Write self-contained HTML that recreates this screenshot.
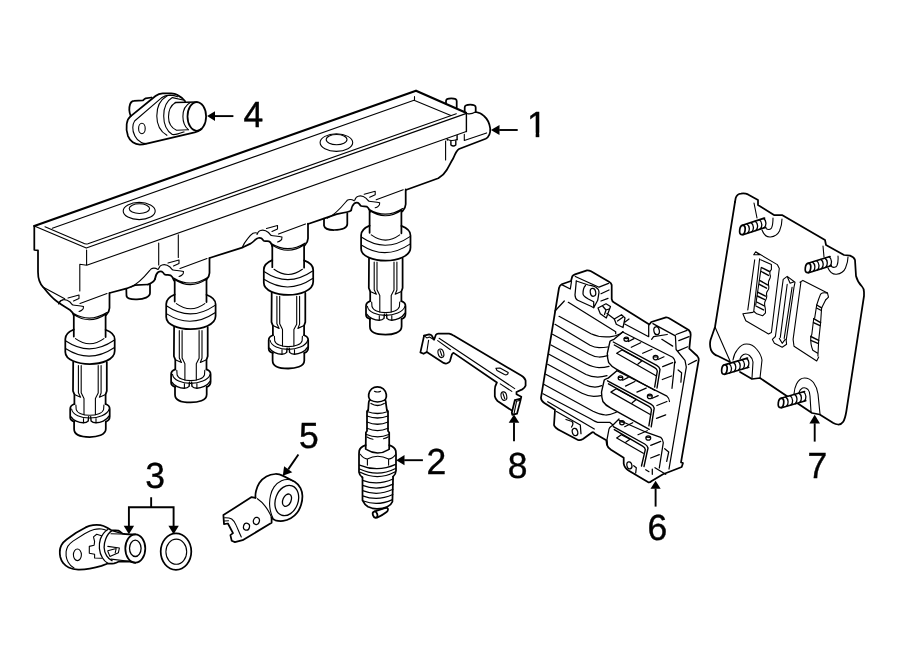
<!DOCTYPE html>
<html><head><meta charset="utf-8">
<style>
html,body{margin:0;padding:0;background:#fff;}
svg{display:block;}
.b{fill:none;stroke:#000;stroke-width:1.75;stroke-linecap:round;stroke-linejoin:round;}
.m{fill:none;stroke:#000;stroke-width:1.4;stroke-linecap:round;stroke-linejoin:round;}
.t{fill:none;stroke:#000;stroke-width:var(--w,1.1);stroke-linecap:round;stroke-linejoin:round;}
.a{fill:none;stroke:#000;stroke-width:1.9;stroke-linecap:butt;}
text{font-family:"Liberation Sans",sans-serif;fill:#000;}
</style></head><body>
<svg width="900" height="661" viewBox="0 0 900 661">
<defs>
<clipPath id="one"><path d="M-2,-30 H22 V-4.2 H12.3 V0.6 H8.67 V-4.2 H-2 Z"/></clipPath>
<g id="boot">
  <!-- neck -->
  <path class="b" d="M73.8,315.5 L73.8,336.5 M105.6,315 L105.6,337"/>
  <path class="t" d="M72.7,313 Q89.7,323.4 106.8,312.5 M73.6,314.6 Q89.7,325 105.8,314.2"/>
  <!-- collar -->
  <path class="b" d="M73.8,329.5 C69,331.5 65.3,335 65.3,339 L65.3,352 C65.3,360 78,364 89.7,364 C101,364 114.7,360 114.7,351 L114.7,339.2 C114.7,335 110.5,331.5 105.6,329.7"/>
  <path class="t" d="M75.5,338.6 Q89.7,348.8 103.9,338.6 M65.9,341 Q89.7,357 114.1,340.3 M65.9,348.8 Q89.7,364 114.1,347.7"/>
  <!-- lower body -->
  <path class="b" d="M73.2,362 L73,391 L74.4,394.4 L74.4,404 M106.8,362 L106.8,391 L105.6,394.4 L105.6,404"/>
  <path class="t" d="M78.4,365.5 L78.4,392.7 L80.6,397.2 M81.2,365.5 L81.2,392.7 L84,398.4 L84,414.6 M98.2,365.5 L98.2,393 L95.4,398.4 L95.4,414.6 M101.1,365.5 L101.1,393 L99.4,397.2 M74.4,394.4 L80.6,397.2 M105.6,394.4 L99.4,397.2"/>
  <!-- ring -->
  <path class="b" d="M74.4,404 C71,405 70.2,407 70.2,409 L70.2,417.5 C70.2,420 72,421 74.4,421.6 M105.6,404 C109,405 109.7,407 109.7,409 L109.7,416.5 C109.7,419.5 108,421 105.8,421.6"/>
  <path class="t" d="M71.6,409 C72.5,415 81,418 89.7,418 C98,418 107.5,415 109.2,409 M75.9,405 L76.2,409.5 C77,413 83,415.3 89.7,415.3 C96.5,415.3 102.8,413 103.6,409.5 L103.9,405 M83.5,418.5 L83.5,422.8 M96,418.5 L96,422.8"/>
  <path class="m" d="M71.1,416.9 C73,420.5 79,422.8 83.3,422.8 C85.5,422.8 87.3,422 88.2,421 L88.6,416.8 M90.7,416.8 L91.1,421 C92,422 93.8,422.8 96,422.8 C100.5,422.8 106.5,420.5 109.2,415.9"/>
  <!-- tip -->
  <path class="b" d="M74.1,421.6 L74.1,429 C74.1,435 82,437 89.7,437 C97,437 105.8,435 105.8,429 L105.8,421.6"/>
</g>
<g id="clip">
  <path class="t" d="M58.5,304 C59.5,301.5 60.5,300.3 62,300 C64,299.3 67,299.5 70,302 C71.5,303.5 72,304.8 73,305 C76,305.6 80,305.3 83.5,306.5 C83.6,308.5 83,309.5 82,310 C81,311 80,311.3 79,311.5"/>
  <path class="t" d="M68,298 L79,295 L79,298.5 L73.5,301"/>
  <path class="t" d="M80,303.5 L107,293.5"/>
  <path class="b" d="M109.5,293 L109.5,308 C109.5,311 108,313 106.2,315"/>
</g>
<g id="clipB">
  <path class="b" d="M55,314 C55.5,311 56.5,308.5 58,307.3 C60,306 62,306.5 63,307.5 C64,308.5 64,309.5 65,309.7 C67,310.2 69,309.8 70.5,310.3 C72.5,311.5 73,313 74,315.5"/>
</g>
<g id="clipL">
  <path class="t" d="M31,322 C40,318 46,310 51,304 C53,302.8 56,303.2 58,304.5"/>
</g>
<g id="clipA">
  <path class="b" d="M48,319.5 C52,318 54.5,316 55,314"/>
</g>
</defs>

<!-- ===== COIL PACK (1) ===== -->
<g id="coil">
  <!-- lid -->
  <path class="b" d="M34.3,226 L416,90.7 L466,112.8" style="stroke-width:2.2"/>
  <path class="t" style="stroke-width:1.25" d="M34.3,226 L86.3,248 L466.5,113.4"/>
  <path class="t" d="M45,226.7 L83,243 Q85.5,244.6 88,243.8 L456.3,113.7"/>
  <path class="t" d="M52.3,228.3 L414,100.2 L450.9,115.4 M414.5,96.5 L414.5,100.5"/>
  <path class="t" d="M86.6,250 L86.6,265.3 M86.7,265.3 L466.3,131.5 M86.7,265.3 L79.8,264.3 L79.8,291"/>
  <path class="m" d="M466.4,113.4 L466.4,131.5"/>
  <!-- bosses -->
  <ellipse class="t" cx="139.2" cy="211" rx="16" ry="8.6"/>
  <ellipse class="t" cx="139.4" cy="208.6" rx="10.2" ry="4.9"/>
  <ellipse class="t" cx="336.4" cy="142.6" rx="16.3" ry="8.8"/>
  <ellipse class="t" cx="336.6" cy="139.6" rx="10.4" ry="5.1"/>
  <!-- verticals -->
  <path class="t" d="M158.7,243 L158.7,265 M178.3,234.7 L178.3,257.5 M445.6,141 L445.6,160"/>
  <!-- left end -->
  <path class="b" d="M34.3,226 L34.3,250 L38,250.4 L38,272 C38,280 40,284 43.3,287.3 C47,292 52,298 56.7,301.3 C61,304.5 66,307.5 70,310 C72,311.5 73,313 73.8,315.5"/>
  <path class="t" d="M43.3,287.3 L64.7,298.7"/>
  <!-- body bottom segments -->
  <path class="b" d="M109.5,293 L126,288.7 L135,285.2 L148,284.5"/>
  <path class="b" d="M126.3,288.7 L126.5,296 C127,298.5 131,299.6 137,299.4 C144,299.2 150,297 150,293 L150,284.5"/>
  <path class="b" d="M209.5,258 L243,247.3 L250,243.9 C252,242.8 253.5,241.6 254.5,240.5 C256,239 257,238.2 258.3,238 C259.5,237.7 260.5,237.8 261.3,238.3 C262.5,239.2 263,240.2 263.7,240.7 C265.5,241.5 267.5,241 269,241.3 C270.5,241.8 271.2,243.2 271.7,244.7 L272.3,246.5"/>
  <path class="b" d="M308,224 L323.7,218.7 L336.7,214.2 L347.3,212 C349.3,211.6 350.6,211.2 351.2,210.3"/>
  <path class="b" d="M324,218.7 L324,225.5 C324.5,228.5 329,230 334,230 C341,229.8 347.3,228 347.3,224 L347.3,213"/>
  <path class="b" d="M405.8,190 L438.3,178.3 C443,175.5 445,173 446.7,170 C449,166 451,162 453.3,158.3 C455,154 456.5,150.5 459,149 L485.7,138.7 C489,137 490.5,133 490.2,128.4 C489.5,123 487,118.6 484,116 C481.5,113.5 479,112.3 475.7,112"/>
  <!-- right end pegs -->
  <path class="b" d="M446,103.6 L446,101 C446,99 449,98.4 451.3,98.4 C454,98.4 456.7,99 456.7,101 L456.7,107.5"/>
  <path class="b" d="M464.7,112 L464.7,107.5 C464.7,105.3 467.5,104.7 470.2,104.7 C473,104.7 475.7,105.3 475.7,107.5 L475.7,112"/>
  <path class="t" d="M467.5,113.6 Q471,114.5 475.5,112"/>
  <path class="t" d="M464.3,134.2 L464.3,140.4 L486.6,132.9"/>
  <path class="m" d="M447.3,139 L447.3,140 M457.1,135.5 L457.1,139.8 M450.9,141 L450.9,145 Q453.4,147 455.8,145 L455.8,140.8"/>
  <path class="t" d="M447.5,139.6 Q452,141.5 457,139.4"/>
</g>
<!-- boots -->
<use href="#boot"/><use href="#clip"/>
<path class="t" d="M59,303.6 C60,301.5 61,300.3 62.5,300"/>
<use href="#boot" transform="translate(100.9,-36.3) scale(1,1.004)"/><use href="#clip" transform="translate(100,-35)"/><use href="#clipL" transform="translate(100,-35)"/><use href="#clipA" transform="translate(100,-35)"/><use href="#clipB" transform="translate(100,-35)"/>
<use href="#boot" transform="translate(198.5,-72) scale(1,1.008)"/><use href="#clip" transform="translate(198.5,-69.5)"/><path class="t" d="M242.3,247.3 C244,243.5 245.8,241 247.7,238.7 C249.5,236.3 251,234.5 253,233.3 C254.3,232.7 255.5,232.6 256.8,233"/>
<use href="#boot" transform="translate(295.8,-108.1) scale(1,1.013)"/><use href="#clip" transform="translate(296.2,-103.7)"/><use href="#clipL" transform="translate(296.2,-103.7)"/><use href="#clipB" transform="translate(296.2,-103.7)"/>

<!-- ===== PART 4 ===== -->
<g id="p4">
  <!-- ear -->
  <path class="b" d="M130.7,115.9 C129.3,112.5 128.8,108 130.1,104.1 C131,101.8 132.3,100.9 133.9,100.9 L142.9,100.4 C144,99.3 144.6,98.6 145.6,98.3 L151.5,97.5"/>
  <!-- outer outline -->
  <path class="b" d="M130.5,116.4 L155.5,96 C157.5,94.4 160,93.4 162.7,93.3 L171.2,93.3 C174,93.5 176,94.2 177.6,95.1 C181,96.8 183.5,99 185.1,101.3"/>
  <path class="b" d="M130.5,116.4 C128.5,118 127.2,120.5 126.7,124 C126.2,127.5 126.5,132 128,136.1 C129.2,139 130.8,141 132.8,142.3 C135,143.9 137.5,144.6 139.8,144.6 C142,144.6 144.5,144.2 146.7,143.6 L194.7,132.4 C197.5,131.6 199.5,130.6 201.5,129"/>
  <!-- flange front face -->
  <path class="t" d="M146.5,143.6 C144,143.6 142.5,143.2 141.3,142.5 C138,140.8 136,138.5 134.9,136.1 C133.2,132.5 132.6,130 132.8,127.5 C133,124.5 133.5,122.5 134.6,121 L161.5,97.8 C163.5,96.3 166.5,95.3 170.1,95.1 C173,95.1 175.5,95.7 177.6,96.7"/>
  <ellipse class="t" cx="141.9" cy="128.5" rx="3.3" ry="5.2"/>
  <!-- cylinders -->
  <path class="t" d="M166.9,96.1 C160,100 156.8,108 156.8,115.9 C156.8,124 160.5,131.5 166.9,135.3"/>
  <path class="t" d="M172.3,97.5 C166.5,101 163.7,108.5 163.7,115.9 C163.7,124 167,131 172.3,134.5 C176,135.2 180,133.5 184,131.9"/>
  <path class="t" d="M175.5,102.5 C170.5,105.5 168.5,111 168.5,116.9 C168.5,122.5 171.5,127.8 176.5,130.3 L188.3,129.7"/>
  <path class="t" d="M172.5,97.6 L183,100"/>
  <path class="b" d="M175.5,102.5 L196.8,102"/>
  <path class="t" d="M190.3,102.6 C185,105.5 182.9,110.5 182.9,116.4 C182.9,122 184.8,126.5 188.3,129.7"/>
  <ellipse class="b" cx="196.8" cy="116.4" rx="9.3" ry="14.4"/>
</g>
<!-- ===== PART 3 ===== -->
<g id="p3">
  <path class="b" d="M59.8,550.6 C60,548.5 60.5,547 61.3,545.3 C62.5,543 64.3,541.2 66.6,539.5 L76.1,532.7 L85.6,527.4 C88,526.2 90.3,525.4 93,525.1 C95.5,524.8 98,524.8 100.4,525.1 C102.8,525.5 104.8,526.3 106.7,527.4 C108.3,528.3 109.7,529.2 111,530 C113.5,530.6 116,530.3 118.4,530.6 C120,531.3 121.3,532.6 122.6,533.7 C124.5,534.2 126.7,534.3 128.9,534.3 L135.3,534.3"/>
  <path class="b" d="M59.8,550.6 C59.7,553 59.9,555 60.3,557 C60.9,559.5 61.9,561.6 63.4,563.3 C64.8,565.1 66.5,566.5 68.7,567.5 C71.5,568.8 74.7,569.5 78.2,569.6 C82,569.7 86,569.3 89.8,568.6 C93.8,567.9 97.7,567 101.5,565.9 L107.8,563.5 C110,563.8 112,563.7 114.1,563.3 C115.7,562.9 117,562.4 118.4,561.7 L128.9,561.4 L135.3,562.8"/>
  <path class="t" d="M74,568 C71.5,566.5 69.5,564.5 68.2,562.2 C67,560.2 66.4,558.2 66.1,555.9 L66.1,551.7 C66.4,549.8 66.9,548 67.7,546.4 C69,544.3 70.8,542.7 73,541.1 L84.6,533.7 C87.7,532 90.8,530.4 94.1,529.5 C96.5,528.9 99,528.8 101.5,529 C103.4,529.3 105.1,529.9 106.7,530.6"/>
  <ellipse class="t" cx="77.4" cy="554.8" rx="4" ry="5.8"/>
  <ellipse class="b" cx="135.3" cy="548.5" rx="10" ry="14.2"/>
  <ellipse class="t" style="stroke-width:1.3" cx="135.3" cy="548.3" rx="5.8" ry="8.2"/>
  <path class="t" style="stroke-width:1.3" d="M107.8,529.5 C104.5,531.5 102,535 100.4,539 C99.4,542 99.2,545.5 99.4,548.5 C99.7,552 100.8,555.3 102.5,558 C103.8,560.2 105.7,562 107.8,563.3"/>
  <path class="t" style="stroke-width:1.3" d="M112,530.6 C109,532.5 107,535.5 105.7,539 C104.6,541.8 104,544.6 104.1,547.5 C104.2,550.5 105.2,553.4 106.7,555.9 C108,558 109.8,559.6 112,560.7 M112,530.6 L120.5,533.2"/>
  <path class="t" d="M111,533.7 L128.9,534.3 M111,559.1 L128.9,561.3"/>
  <path class="t" d="M101.5,535.8 L96.7,534.3 L93.5,536.9 L94.6,541.6 L94.1,545.3 L89.3,546.4 L89.3,553.3 L94.6,554.3 L94.6,558 L101.5,558.2"/>
  <path class="t" d="M107.8,546.4 L119.4,548 L118.4,552.7 L109.9,556.4 M107.8,550.8 L116.2,548.5 L115.2,552.8 M107.9,551.5 L109.9,556.4"/>
  <ellipse class="b" cx="176" cy="551.6" rx="15.3" ry="18.2"/>
  <ellipse class="t" cx="176.3" cy="551.7" rx="10.4" ry="12.6"/>
</g>
<!-- ===== PART 5 ===== -->
<g id="p5">
  <path class="b" d="M255.5,497.8 C255.3,495.5 255.5,493 256.1,490.7 C257,487.5 258,485 259.3,483 C261.3,480.2 263.5,478.2 266.4,476.6 C269.2,475 272,474.2 275.4,474 C278,473.9 280.5,474.6 283.1,475.9 L294.7,481.7 C297.2,483.3 299.2,485.5 300.5,488.1 C301.7,490.5 302.3,493 302.4,495.8 C302.5,499 302,502 301.1,504.8 C300.2,507.6 299,510.3 297.3,512.6 C295.5,515 293.3,517 290.8,518.3 C288.3,519.7 285.8,520.6 283.1,520.9 C280.3,521.2 277.8,521 275.4,520.3 C274,519.8 272.7,518.9 271.6,517.7"/>
  <path class="t" d="M293,480.9 C289,479 285,479.3 281.5,480.8 C278.5,482.2 276,484.3 274.1,486.9 C272.3,489.5 271.2,492.3 270.5,495.5 C269.8,498.5 269.5,501.5 269.6,504.5 C269.7,507.5 270.2,510.3 270.9,512.6 C271.4,514.5 272,516.2 272.8,517.7"/>
  <ellipse class="t" style="stroke-width:1.3" cx="286.8" cy="500.5" rx="11.3" ry="15.6" transform="rotate(20 286.8 500.5)"/>
  <ellipse class="t" style="stroke-width:1.3" cx="287" cy="500.2" rx="4.1" ry="6.5" transform="rotate(24 287 500.2)"/>
  <path class="b" d="M255.5,497.8 L251.6,497.1 L223.4,515.1 L224,524.1 L227.9,523.5 L233,533.1 L230.4,535.1 L231.7,540.8 L234.9,542.1 L242.6,540.2 L271.6,522.8 L271.6,517.7"/>
  <path class="t" d="M257.4,498.7 C260.5,500.8 263,503.3 265.1,506.1 C267.2,508.8 268.9,511.7 270.3,514.5 L271.6,517.7"/>
  <path class="t" d="M224.6,517.7 C227.5,517.6 230,518 231.7,519 C233.8,520.5 235.2,522.8 236.2,525.4 C237.8,529 239.5,533 241.3,537 M224,521 L228.5,520.8"/>
  <ellipse class="t" style="stroke-width:1.25" cx="246.5" cy="526.7" rx="3" ry="3.5" transform="rotate(15 246.5 526.7)"/>
  <ellipse class="t" style="stroke-width:1.25" cx="256.4" cy="520.9" rx="3" ry="3.6" transform="rotate(15 256.4 520.9)"/>
</g>

<!-- ===== SPARK PLUG (2) ===== -->
<g id="p2">
  <!-- terminal -->
  <path class="b" d="M369.9,399.9 C368.5,398 368.3,396.5 368.7,394.5 C369.5,390 373,386.8 377.4,386.8 C382,386.8 385.5,390 386.3,394.5 C386.7,396.5 386.5,398 385.2,399.9"/>
  <path class="t" d="M374.4,391.2 Q377.5,392.8 380.6,391.2"/>
  <path class="m" d="M369.9,399.9 Q377.5,404 385.2,399.9 M371,403.5 Q377.5,407.5 384.2,403.5"/>
  <path class="b" d="M369.9,399.9 C368.8,401 368.7,402 368.7,402.7 L368.2,410.1 M385.2,399.9 C386,401 385.9,402 385.8,402.7 L386.9,410.1"/>
  <!-- ribbed -->
  <path class="b" d="M368.2,410.1 C367.3,410.5 367,411 367,412 L367,431 L365.9,432.5 L365.7,449 M386.9,410.1 C387.8,410.5 388,411 388,412 L388,431 L389.2,432.5 L389.2,449"/>
  <path class="t" style="stroke-width:1.25" d="M367,411.5 Q377.5,415.5 388,411.5 M367,416 Q377.5,420 388,416 M367,422 Q377.5,426.5 388,422 M367,428.3 Q377.5,432.8 388,428.3 M366.5,434.5 Q377.5,439.3 388.8,434.5"/>
  <path class="t" d="M367,437 Q370,439 373,439.2 M383.5,438.8 Q386.5,438 388.3,436.8"/>
  <!-- hex -->
  <path class="b" d="M365.7,445.1 C362,446.5 359.6,448.5 359.2,451 L359,454.1 L359,472.1 C359.3,474.5 360.5,476 362.3,477.3 M389.2,445.1 C393,446.5 395.3,448.5 395.8,451 L396,454.1 L396,470.8 C395.8,473.5 394.8,475.3 393.1,476.6"/>
  <path class="m" d="M366.7,449.6 Q377.5,456.5 388.6,449.6"/>
  <path class="t" d="M360.3,454.3 C362.5,457.5 365,458.8 367.4,459.1 Q377.5,453.5 388.6,459.1 C391,458.8 393.5,457.5 395.6,454.6 M367.4,459.3 L367.4,465.1 M388.6,459.3 L388.6,465.1"/>
  <path class="t" style="stroke-width:1.25" d="M359.6,465.1 Q377.6,472.7 395.6,464.4 M359.6,469 Q377.6,477.5 395.6,468.5 M360.3,472.3 Q377.6,481 394.8,472"/>
  <!-- threads -->
  <path class="b" d="M362.5,477.3 L362.5,500.4 C364,503.5 365.5,505.3 368,506.8 C371,508.3 374,508.8 377,508.8 C381,508.8 384.5,508.3 387.3,506.8 C390,505.5 391.5,504 392.4,501.7 L393.1,476.6"/>
  <path class="t" style="stroke-width:1.25" d="M362.6,480.3 Q377.5,486 393,479 M362.6,485.4 Q377.5,491.2 393,484.1 M362.6,490.6 Q377.5,496.5 393,489.3 M362.6,495.8 Q377.5,501.5 392.8,494.5 M363.5,501 Q377.5,506.5 392.4,499.6"/>
  <!-- electrode -->
  <ellipse class="b" cx="375.1" cy="514.6" rx="2.2" ry="3.2" transform="rotate(-20 375.1 514.6)"/>
  <path class="b" d="M374.8,511.4 C378,510.2 381.5,509 384.7,508.1 C386.3,507.7 387.6,508 387.9,508.8 C388.2,510 387.6,511.2 386.6,512 C384,514 380.5,516.2 377,517.7"/>
</g>
<!-- ===== BRACKET (8) ===== -->
<g id="p8">
  <path class="b" d="M424.1,335.6 L429.1,334.3 C430.3,334.4 431.2,334.9 431.8,335.6 L434.1,339.7 L435.9,334.7 C436.5,334 437.3,333.7 438.2,333.6 L449.1,333.6 C450.8,333.9 452.3,334.6 453.6,335.6 L521.2,375.6 C524,377.3 525.3,378.8 525.6,380.6 L525.6,385.7 C524.8,387.6 523.5,388.8 522.3,389.4 L516.5,392 L516.5,394.2 L521.3,396.8 L520.2,401.6 L517,413.7 L512.3,414.8 L511.8,412.8 L514.9,400 L519.9,398.9"/>
  <path class="b" d="M424.1,335.6 L420.4,352.4 L423.6,353.8 L426.8,352 L443.6,362.9 C445,363.6 446.3,363.7 447.2,363.3 C448.5,362.8 449.5,362 450,361.1 L451.8,354.7 C452.3,353.7 452.9,353.1 453.6,352.9 L496.9,382.5 C495.5,385 494.8,387.5 494.8,389.9 L494.8,396.3 C495.3,398.5 496.3,400 497.5,401 L511.9,410.6"/>
  <path class="t" d="M424.1,335.6 L426.8,337.9 L429.5,337 L434.1,339.7 M428.6,340.2 L426.8,352"/>
  <path class="t" d="M439.1,338.3 L514.7,388.6 M437.7,340.6 L450.4,349.7 M500.3,383.9 L511.8,391.4"/>
  <ellipse class="t" cx="440.9" cy="353.3" rx="2.8" ry="4.4" transform="rotate(-14 440.9 353.3)"/>
  <path class="t" d="M440,350.4 L442,356"/>
  <ellipse class="t" cx="503.9" cy="396.1" rx="2.8" ry="4.3" transform="rotate(-12 503.9 396.1)"/>
  <path class="t" d="M503,393.5 L504.8,398.8"/>
  <path class="t" d="M495.9,368.3 L500,368 L508.2,372.6 C508,374.5 506.5,375.3 504.5,374.6 L497,370.5 Z"/>
  <path class="t" d="M516.6,401.2 L514,413.9 M514.9,400 L516.6,401.2 L520.2,400.2"/>
</g>

<!-- ===== ECM (6) ===== -->
<g id="p6" style="--w:1.25">
  <!-- outer outline -->
  <path class="b" d="M541,397.7 L559,288 C559.5,286 560.3,285 561.7,284.3 L571,281 L572.3,276.3 C573,275.2 573.8,274.7 575,274.3 L587,270.3 C588.5,270.2 589.8,270.6 591,271.3 L609,281.7 C610.8,282.8 611.5,283.8 611.7,285 L611.7,299 C612,300.6 612.6,301.6 613.7,302.3 L649.3,324.5 L651.3,322 L666,317.3 C667.5,317.2 668.8,317.8 670,318.7 L688.7,330 C690,331.2 690.6,332.8 690.7,334.7 L689.3,348.7 L697.3,356 C698.4,357.2 698.8,358.5 698.7,360 L681,462.3 L683,463 L681.7,467 L663,474.3 L651.7,481 C650.3,482.2 649.3,482.6 648.3,482.3 L628.5,470.5 C626,469 624.3,467 623.7,463.7 L623.7,457.7 L611,449.7 C608.8,448.2 607.4,446.8 607,445 L606.3,440.3 L595,433.7 C594,432.4 593.2,432 592.3,432.3 L583,439 C581,440.2 579.5,440.5 578,440 L561,431 C557,429 554.5,427.5 554,425 L555,409.7 L544.3,403 C542,401.5 541,400 541,397.7 Z"/>
  <!-- top-left block & ear -->
  <path class="t" d="M561.7,284.6 L570.3,289 L571.5,281.5"/>
  <path class="t" d="M575.3,276.5 L599,287.2 L608.5,283.3 M601,293.7 L609,290 M601,301 L608,298.3"/>
  <path class="t" d="M576.3,281 L588.3,285 C592,285.8 594,286 595.5,287 C598,288.5 599,290 599,292.3 L597.7,300.3 L593.7,307.7 L593.7,301.7 L588.3,299 C585,297 583,296 583,293.7 C583,290 583.5,287.5 585.5,285.5"/>
  <path class="t" d="M576.3,281 L575,295 C575.2,298 576,299.5 577.7,300.3 L591,306.3 L593.7,307.7"/>
  <ellipse class="t" cx="593" cy="292.3" rx="2.7" ry="4" transform="rotate(-10 593 292.3)"/>
  <!-- fins -->
  <path class="t" d="M564.3,301 L555,311 M568.3,302.3 L615.7,331.7 L615.7,333.7"/>
  <path class="t" d="M559,316.3 L591,333.7 C597,336.5 604,337.3 609.7,336.8 C614,336.3 617.5,335.3 620.3,333.7 L623,331.7"/>
  <path class="t" d="M555,324.3 L590,345.3 C593,346.8 596,347.6 599,347.7 C602,347.7 605,347.5 607.7,347"/>
  <path class="t" d="M552.5,334.3 L589,354 C592,355.7 595.5,356.8 599,357 C602,357 605,356.5 607.7,355.7"/>
  <path class="t" d="M551,345 L586,363.8 C590,365.8 594.5,367.5 599,367.7 C602.5,367.7 606,367.2 609,366.3"/>
  <path class="t" d="M549,354.3 L586,374.5 C589.5,376.2 593.5,377 597.7,377 C601,377 604,376.5 607,375.7"/>
  <path class="t" d="M547.7,364.3 L584.5,384.5 C588,386.2 591.5,387 595,387 C597.5,387 599.8,386.5 601.7,385.7"/>
  <path class="t" d="M545.7,374.3 L582,393.3 C586,395.3 590,396.3 593.7,396.3 C596.5,396.3 599,396.1 601,395.7"/>
  <path class="t" d="M543.7,384.3 L593,411.2 C597.5,413.5 601.5,414.8 605.7,415 C609.5,415 613,413.8 616.3,412.3"/>
  <path class="t" d="M543,393.7 L590,418.5 C593,420.5 595.5,421.8 597.7,422.3 L609.7,422.3 L613,425 M547.7,401.7 L594.3,429 M556.5,411.5 L580.3,425 L581,433.7"/>
  <!-- bottom-left ear -->
  <ellipse class="t" cx="575" cy="432" rx="2.7" ry="3.7" transform="rotate(-15 575 432)"/>
  <path class="t" d="M566,419.5 L572,421.5 C573.5,423 573,425 571.5,427"/>
  <!-- small components -->
  <path class="t" d="M598,308 L606,303.8 L610.5,306.5 L606.3,318 L600.3,313.7 Z M603,306.5 L606,310 L609,309 M606,310 L604.5,314.5 M607,313.5 L614.3,319"/>
  <path class="t" d="M614.3,319 L621.5,314.7 L625,318 L623,327.5 L616.3,324.3 Z M617.5,321 L622.5,317.5 M625,322 L629,319"/>
  <path class="t" d="M624.7,324 L648.7,336.7 L648.7,325.3"/>
  <!-- right ear -->
  <path class="t" d="M652.9,323.6 L675.4,335.9 L676.1,349.5 L685,360.4 L686.3,367.2 L669,469 M676.1,334.5 L687,330.4 M678.8,340.7 L689,336.6 M678.1,350.9 L687.7,346.8 M688.4,364.5 L696.5,360.4 M661.8,339.3 L672.7,346.1 M651.6,339.3 L653.6,336.6 L667.2,334.5"/>
  <ellipse class="t" cx="656.6" cy="330.7" rx="2.7" ry="4" transform="rotate(-12 656.6 330.7)"/>
  <path class="t" d="M674.7,361.8 L674.1,368.6 L672,388.3 M678.1,370 L681.6,372.7 L680.9,382.2"/>
  <!-- connector 1 -->
  <g id="conn">
    <path class="m" d="M622.7,332 L614,339.3 C611.5,340.3 610.3,340.6 610,341.3 L607.3,353.3 C607.3,357 607.8,360 608.7,362.7 C610.5,365.5 613,367.5 616.7,369.3 L655,390.5"/>
    <path class="t" d="M622.7,332 L672.7,357.3 C674.3,358.8 675.2,360.5 675.3,362.7"/>
    <path class="m" d="M613.3,342 L656.7,365.3 C658.5,366.3 659.6,367.5 660,369.3 L657,388 M614.3,345 L654.6,367.6 C656.3,368.6 657.1,369.6 657.3,371 L654.7,387"/>
    <path class="t" d="M616.7,353.3 L622,350 M616.7,353.3 L656.5,376 M622,350 L642,360.7 L638,364"/>
    <ellipse class="t" cx="626.3" cy="339.3" rx="2.3" ry="2.1"/><path class="t" d="M624.3,338.5 L628.3,338.7"/>
    <ellipse class="t" cx="655.6" cy="357.6" rx="2.4" ry="2.2"/><path class="t" d="M653.5,356.8 L657.7,357"/>
    <path class="t" d="M631.3,347.3 L640.7,342.7 M642.7,353.3 L652,349.3 M662.7,366.7 L672.7,362.7 M662.3,379.5 L671.5,376 M628.5,341.5 L634,338.6 M658,359.5 L664,356.8"/>
  </g>
  <use href="#conn" transform="translate(-5.8,38.8)"/>
  <!-- connector 3 -->
  <path class="t" d="M619,419 L613,425 C610.5,426.5 609.3,427.5 609,429 L607,439.7 L607.5,445"/>
  <path class="t" d="M618.7,420 L647.3,432.7 L660.7,437.3 C662.3,438.8 663.2,440.5 663.3,442.7 L659.3,468"/>
  <path class="m" d="M613.3,426.7 L644.7,444 C646.5,445 647.6,446.3 648,448 L644,466.5 M614.3,429.6 L642.6,446.2 C644.3,447.2 645.1,448.2 645.3,449.6 L641.5,466"/>
  <path class="t" d="M616.7,438 L621.3,434.7 M616.7,438 L643.3,453.3 M621.3,434.7 L630,439.3 L626,442"/>
  <ellipse class="t" cx="622" cy="422.7" rx="2.3" ry="2.1"/><ellipse class="t" cx="648.3" cy="438" rx="2.4" ry="2.2"/>
  <path class="t" d="M620,422 L624,422.2 M646.3,437.2 L650.3,437.4 M624.7,426.7 L632.7,422.7 M638,434.7 L647.3,430.7 M650.7,445.3 L660.7,441.3 M650.7,458 L659.3,454.7 M664.7,448.7 L668.7,452 L666.7,461.3"/>
  <!-- bottom ear -->
  <ellipse class="t" cx="629.4" cy="465.4" rx="2.5" ry="3.6" transform="rotate(-12 629.4 465.4)"/>
  <path class="t" d="M633.7,465.7 L636.3,467.7 L635.7,473 M645.7,469.7 L649,471.7 M652.3,469 L652.3,474.3 M655,467.7 L665.7,474.3"/>
</g>

<!-- ===== PLATE (7) ===== -->
<g id="p7">
  <path class="b" d="M735,202 L735.7,198 C736.5,195.5 738.5,193.8 741,193.6 C743.5,193.3 746,193.5 748,194.4 L758,200 L758,205 L774,215 L782,215 L825,240 L826,245 L844,255 L850,255.6 C852.5,256.5 854.3,258 855,260 L856,276 C857,280 859,283.5 862,286.5 C863.5,288 864,289.5 864,292 L864,296 L846.4,411 C845.6,416 844.5,420 843,422 C841.8,423.8 840,424.6 838,424.5 C836,424.4 834.5,423.8 833.3,423.1 L819.7,414.5 L812,413 L760,378 L752,379 L740,372"/>
  <path class="b" d="M735,202 L715,327 L710.5,340 C709.8,343 709.8,346.5 711,350 C712.5,353 715,355 718,356 L730,362"/>
  <path class="t" d="M715,327 L730,361"/>
  <!-- bosses -->
  <path class="t" d="M754,203 L757,218 M762,230 C764,235 767,237.3 770.5,237 C775,236.5 778,234 779.5,231 C781,227.5 782,223.5 782,219 M766,228.5 C768,230 770.5,229.8 771.5,228 C772.8,225.5 773,222 773,218"/>
  <path class="t" d="M823,246 L824,257 M828,268 C830,272.5 833,274.5 836.5,274.2 C841,273.8 844,271.5 845.5,268 C847,264.5 848,261 848,257 M831.5,266.5 C833.5,268 836,267.5 837,265.5 C838,263 838.3,259.5 838,256"/>
  <path class="t" d="M733,360 C733.5,356 735,352.5 737.5,349.5 C740,346 743,344 746.5,344 C750.5,344 754,345.8 756.5,349 C759.5,352.5 761.5,356.5 762,360 L760,378 M740,359 C740.5,357 741.5,355.5 743.5,354.5 C745.5,353.7 747.5,354 749.5,355.5 C751.5,357.2 752.6,359.5 753,362 L752,378"/>
  <path class="t" d="M794,394 C794.3,390 795,387 796.5,384 C798.5,380 801,378 804.5,378 C808,378 811,379.5 813.5,382.5 C816,386 817.5,390 818,394 L820,414 M799,392.5 C799.5,390.5 800.5,389 802.5,388 C804.5,387.3 806.3,387.8 808,389.5 C809.5,391.2 810,393.5 810,396 L811,412"/>
  <!-- studs -->
  <path d="M742.4,225.3 L764.5,218.1 L765.7,227.3 L743.0,234.7 Z" fill="#fff" stroke="none"/>
  <path class="b" style="stroke-width:1.7" d="M742.4,225.3 L764.5,218.1 M743.0,234.7 L765.7,227.3"/>
  <ellipse class="b" style="stroke-width:1.7;fill:#fff" cx="742.4" cy="230.0" rx="2.7" ry="4.7" transform="rotate(8 742.4 230.0)"/>
  <path class="t" style="stroke-width:1.3" d="M746.9,224.0 C749.9,226.0 750.1,231.2 747.5,233.3 M751.0,222.6 C754.0,224.6 754.2,229.8 751.6,231.9 M755.2,221.2 C758.2,223.2 758.4,228.4 755.8,230.5 M759.4,219.8 C762.4,221.8 762.6,227.0 760.0,229.1 M763.5,218.4 C766.5,220.4 766.7,225.6 764.1,227.7 "/>
  <path d="M808.0,263.3 L830.0,256.5 L831.2,265.7 L808.6,272.7 Z" fill="#fff" stroke="none"/>
  <path class="b" style="stroke-width:1.7" d="M808.0,263.3 L830.0,256.5 M808.6,272.7 L831.2,265.7"/>
  <ellipse class="b" style="stroke-width:1.7;fill:#fff" cx="808.0" cy="268.0" rx="2.7" ry="4.7" transform="rotate(8 808.0 268.0)"/>
  <path class="t" style="stroke-width:1.3" d="M812.5,262.1 C815.5,264.1 815.7,269.3 813.1,271.4 M816.6,260.8 C819.6,262.8 819.8,268.0 817.2,270.1 M820.8,259.4 C823.8,261.4 824.0,266.6 821.4,268.7 M824.9,258.1 C827.9,260.1 828.1,265.3 825.5,267.4 M829.1,256.8 C832.1,258.8 832.3,264.0 829.7,266.1 "/>
  <path d="M724.4,364.9 L747.5,358.1 L748.7,367.3 L725.0,374.3 Z" fill="#fff" stroke="none"/>
  <path class="b" style="stroke-width:1.7" d="M724.4,364.9 L747.5,358.1 M725.0,374.3 L748.7,367.3"/>
  <ellipse class="b" style="stroke-width:1.7;fill:#fff" cx="724.4" cy="369.6" rx="2.7" ry="4.7" transform="rotate(8 724.4 369.6)"/>
  <path class="t" style="stroke-width:1.3" d="M729.1,363.7 C732.1,365.7 732.3,370.9 729.7,373.0 M733.4,362.4 C736.4,364.4 736.6,369.6 734.0,371.7 M737.8,361.0 C740.8,363.0 741.0,368.2 738.4,370.3 M742.1,359.7 C745.1,361.7 745.3,366.9 742.7,369.0 M746.5,358.4 C749.5,360.4 749.7,365.6 747.1,367.7 "/>
  <path d="M781.0,398.3 L804.5,391.5 L805.7,400.7 L781.6,407.7 Z" fill="#fff" stroke="none"/>
  <path class="b" style="stroke-width:1.7" d="M781.0,398.3 L804.5,391.5 M781.6,407.7 L805.7,400.7"/>
  <ellipse class="b" style="stroke-width:1.7;fill:#fff" cx="781.0" cy="403.0" rx="2.7" ry="4.7" transform="rotate(8 781.0 403.0)"/>
  <path class="t" style="stroke-width:1.3" d="M785.7,397.1 C788.7,399.1 788.9,404.3 786.3,406.4 M790.2,395.8 C793.2,397.8 793.4,403.0 790.8,405.1 M794.6,394.4 C797.6,396.4 797.8,401.6 795.2,403.7 M799.0,393.1 C802.0,395.1 802.2,400.3 799.6,402.4 M803.5,391.8 C806.5,393.8 806.7,399.0 804.1,401.1 "/>
  <!-- center ribs: left -->
  <path class="t" d="M753.7,254.8 L755.7,251.8 L759.6,254.8 Z M754.7,259.7 L747.8,309.9 M759.6,258.7 L753.7,311.9 M755.7,251.8 L777.3,264.6 L779.3,268.5 L771.4,332.5 L768.5,334 L745.8,320.7 L742.9,313.8 L752.7,312.4"/>
  <path class="t" d="M760.6,259.7 L771.4,264.6 L771.4,269.5 C769,271.5 769.5,273.5 770.4,276 C770.5,279 768.5,280 768.5,282.3 C768,285 769.5,287 768.5,289.5 C767,291.5 766.3,292 766.5,294.5 C767.5,297.5 766,299.5 765,301.5 C764,304 764.8,306 765.3,308.5 L765.5,312.8 L762.6,315.8 L756.7,313.8 L754,311.5 M761.2,267.6 L755.7,305"/>
  <path class="m" d="M761.6,267.6 L769.4,271.5 M761.3,271.5 L768.5,275.4 M759.6,280.4 L767.5,284.9 M759.4,284.3 L766.5,288.2 M757.6,292.2 L765.5,296.1 M757.3,296 L764.8,299.6 M756.7,302 L764.5,306 M755.9,306 L763.5,309.9"/>
  <!-- middle -->
  <path class="t" d="M783.2,279.4 L775.4,336.5 L772.4,339.4 L774.4,343.3 L782.2,347.3 L786.6,344.3 L786.2,340.4 L794,287.2 L795,282.3 L787.2,276.4 L783.2,279.4 M787.6,277.5 L790.1,283.3 L794.2,281.8 M787.2,284.3 L780.3,337.4 M792.1,287.2 L784.2,338.4 M779.3,338.4 L782.2,343.3 L785.2,339.4"/>
  <!-- right -->
  <path class="t" d="M800,282.3 L802.9,280.4 L827.5,293.1 L828.5,297.1 L825.6,300 M800.9,282.3 L793.1,339.4 L794,346.3 L816.7,361 L818.7,357.1"/>
  <path class="t" d="M827.5,293.1 C824.5,292.5 822,292.8 820.6,294.1 L818.7,299 L816.7,305 L814.7,317.8 L813.7,318.7 L811.8,334.5 L810.8,336.5 C810.5,341 811,346 812.8,350.2 L817.7,353.2 M825.6,300 L821.6,307.9 L820.6,322.7 L818.7,340.4 L817.9,356"/>
  <path class="m" d="M816.7,305 L821.6,307.9 M816.5,308 L821.4,310.5 M813.7,318.7 L820.6,322.7 M813.5,322.7 L820,325.6 M810.8,336.5 L818.7,340.4 M810.8,340.4 L817.9,343.3"/>
</g>
<!-- ===== LABELS / ARROWS ===== -->
<g id="labels" font-size="35.5" style="opacity:0.999;text-rendering:geometricPrecision" stroke="#000" stroke-width="0.4">
  <g transform="translate(527,137.4) scale(1,1.025)" clip-path="url(#one)"><text x="0" y="0">1</text></g>
  <g transform="translate(426.5,473.8) scale(1,1.025)"><text x="0" y="0">2</text></g>
  <g transform="translate(145.2,488.3) scale(1,1.025)"><text x="0" y="0">3</text></g>
  <g transform="translate(243.5,127.1) scale(1,1.025)"><text x="0" y="0">4</text></g>
  <g transform="translate(299,447.6) scale(1,1.025)"><text x="0" y="0">5</text></g>
  <g transform="translate(647.6,539.6) scale(1,1.025)"><text x="0" y="0">6</text></g>
  <g transform="translate(807.4,478) scale(1,1.025)"><text x="0" y="0">7</text></g>
  <g transform="translate(507.8,477.7) scale(1,1.025)"><text x="0" y="0">8</text></g>
</g>
<g id="arrows" fill="#000" stroke="none">
  <path d="M490.9,130 L499.5,125 L499.5,135 Z"/><path class="a" d="M499.2,130 L517.7,130"/>
  <path d="M207.1,116.1 L215,111.3 L215,120.89999999999999 Z"/><path class="a" d="M214.7,116.1 L233.4,116.1"/>
  <path d="M396.2,460.2 L404.5,455.09999999999997 L404.5,465.3 Z"/><path class="a" d="M404.2,460.2 L422.9,460.2"/>
  <path d="M282.8,475.8 L284.1,466.2 L292.3,472.2 Z"/><path class="a" d="M288.2,469.4 L298.4,454.5"/>
  <path d="M128.9,534.3 L123.7,525.8 L134.1,525.8 Z"/><path d="M173.6,534.3 L168.4,525.8 L178.8,525.8 Z"/>
  <path class="a" d="M128.9,526 L128.9,507.3 L173.6,507.3 L173.6,526 M151.15,497.2 L151.15,507.3" style="stroke-linejoin:miter"/>
  <path d="M655.6,480.8 L650.5,488.8 L660.7,488.8 Z"/><path class="a" d="M655.6,488.5 L655.6,506.6"/>
  <path d="M814.7,414.8 L809.4000000000001,423.6 L820.0,423.6 Z"/><path class="a" d="M814.7,423.3 L814.7,441.6"/>
  <path d="M514,414.4 L508.7,422.8 L519.3,422.8 Z"/><path class="a" d="M514,422.5 L514,441.3"/>
</g>
</svg>
</body></html>
